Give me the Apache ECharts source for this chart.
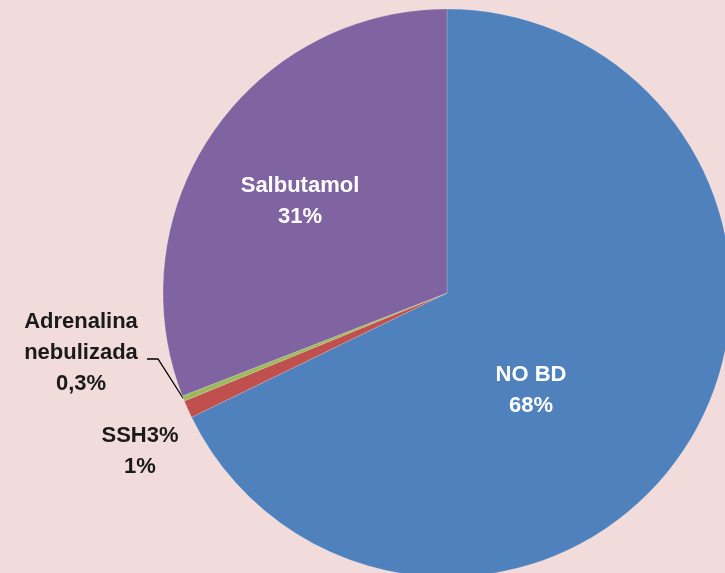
<!DOCTYPE html>
<html>
<head>
<meta charset="utf-8">
<script src="https://cdn.jsdelivr.net/npm/echarts@6/dist/echarts.min.js"></script>
<style>
  html, body { margin: 0; padding: 0; background: #F2DCDB; }
  #pieChart { width: 725px; height: 573px; }
</style>
</head>
<body>
<div id="pieChart"></div>
<script>
const categories = ['NO BD', 'SSH3%', 'Adrenalina nebulizada', 'Salbutamol']
const labelNames = ['NO BD', 'SSH3%', 'Adrenalina\nnebulizada', 'Salbutamol']
const percentValues = [68, 1, 0.3, 31]
const percentLabels = ['68%', '1%', '0,3%', '31%']
const sliceColors = ['#4F81BD', '#C0504D', '#9BBB59', '#8064A2']

// where each label sits (Excel placed them by hand)
const labelSpots = [
  { x: 531, y: 390, color: '#fff' },
  { x: 140, y: 451, color: '#1a1a1a' },
  { x: 81, y: 353, color: '#1a1a1a', line: [[158, 359], [147, 359]] },
  { x: 300, y: 201, color: '#fff' }
]

const chart = echarts.init(document.getElementById('pieChart'))

chart.setOption({
  backgroundColor: '#F2DCDB',
  animation: false,
  series: [{
    type: 'pie',
    center: [447, 293],
    radius: [0, 284],
    startAngle: 90,
    clockwise: true,
    avoidLabelOverlap: false,
    itemStyle: { borderColor: 'rgba(255,255,255,0.35)', borderWidth: 0.5 },
    label: {
      show: true,
      position: 'outside',
      fontFamily: 'Liberation Sans',
      fontWeight: 'bold',
      fontSize: 22,
      lineHeight: 31,
      align: 'center'
    },
    labelLine: { show: false, lineStyle: { color: '#000', width: 1.3 } },
    labelLayout: function (p) {
      const s = labelSpots[p.dataIndex]
      const out = { x: s.x, y: s.y, align: 'center', verticalAlign: 'middle' }
      if (s.line) {
        // leader from the label to the thin green slice edge
        const ang = (90 - (68 + 1 + 0.15) / 100.3 * 360) * Math.PI / 180
        const ex = 447 + 284 * Math.cos(ang)
        const ey = 293 - 284 * Math.sin(ang)
        out.labelLinePoints = [[s.line[1][0], s.line[1][1]], s.line[0], [ex, ey]]
      }
      return out
    },
    data: categories.map(function (c, i) {
      const d = {
        name: c,
        value: percentValues[i],
        itemStyle: { color: sliceColors[i] },
        label: {
          formatter: labelNames[i] + '\n' + percentLabels[i],
          color: labelSpots[i].color
        }
      }
      if (labelSpots[i].line) d.labelLine = { show: true }
      return d
    })
  }]
})
</script>
</body>
</html>
